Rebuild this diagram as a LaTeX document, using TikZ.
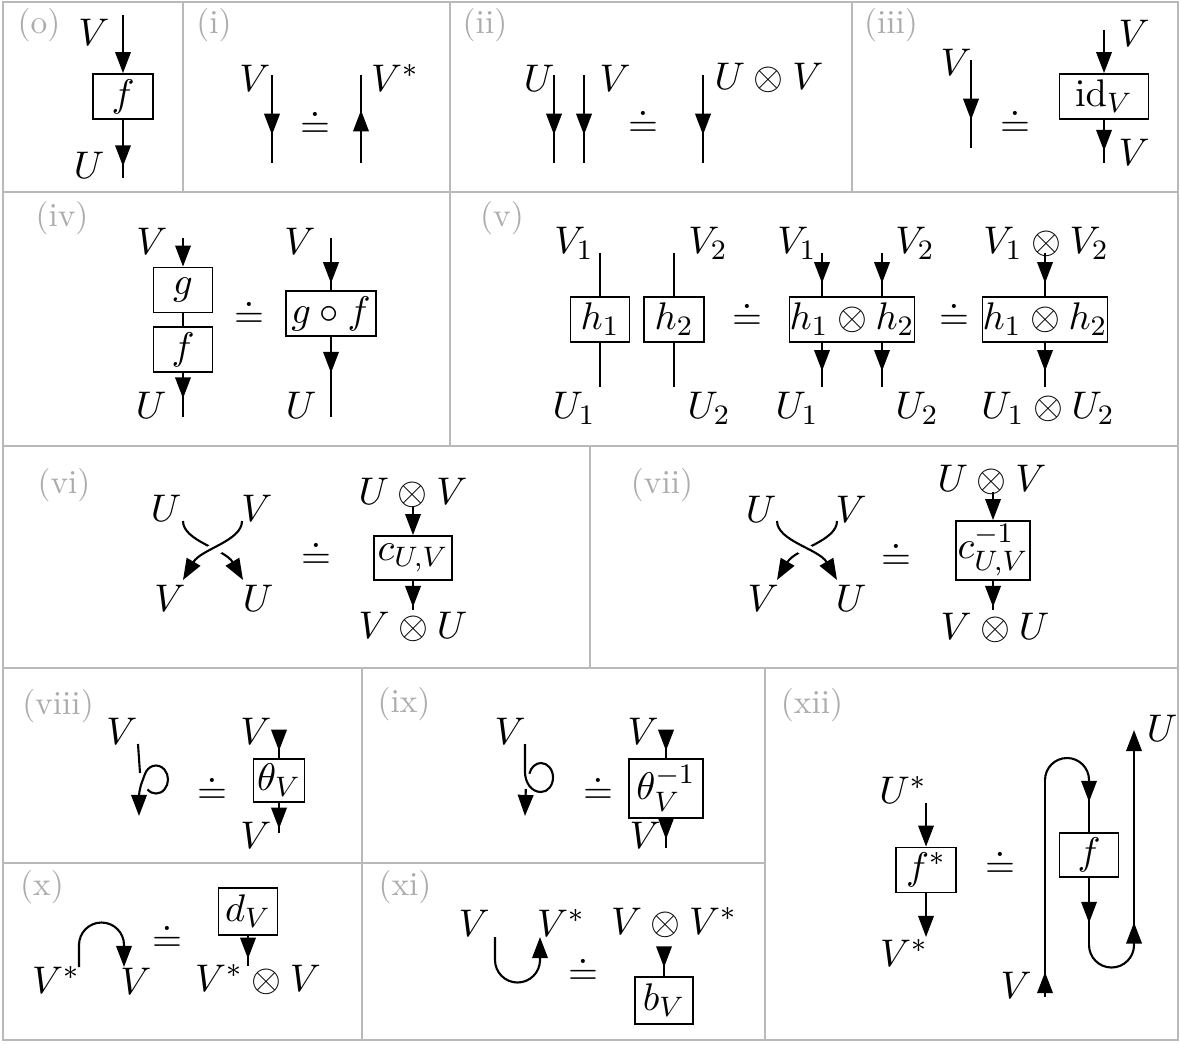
\documentclass[tikz,border=0pt,11pt]{standalone}
\usepackage{amsmath,amssymb}
\usepackage{tikz}
\usetikzlibrary{arrows.meta,decorations.markings}
\definecolor{rulegray}{RGB}{185,185,185}
\definecolor{taggray}{RGB}{172,172,172}

\begin{document}
\begin{tikzpicture}[x=0.01cm,y=0.01cm,
    every node/.style={inner sep=1pt},
    ktip/.tip={Triangle[length=6pt,width=4.4pt]},
    strand/.style={line width=0.6pt},
    tobox/.style={strand,-ktip},
    midtip/.style={strand,postaction={decorate},
      decoration={markings,mark=at position #1 with {\arrow{ktip}}}},
    overpass/.style={preaction={draw,white,line width=3.6pt,arrows=-}},
    mapbox/.style={draw,line width=0.5pt,inner sep=1pt,minimum width=0.6cm,minimum height=0.45cm},
    tag/.style={text=taggray,font=\fontsize{9.5}{11}\selectfont},
    cell/.style={draw=rulegray,line width=0.7pt}]
  \useasboundingbox (0,0) rectangle (1180,-1043);
  % table rules
  \draw[cell] (3,-2) rectangle (1178,-1040);
  \draw[cell] (3,-192) -- (1178,-192);
  \draw[cell] (3,-446) -- (1178,-446);
  \draw[cell] (3,-668) -- (1178,-668);
  \draw[cell] (3,-863) -- (765,-863);
  \draw[cell] (183,-2) -- (183,-192);
  \draw[cell] (450,-2) -- (450,-446);
  \draw[cell] (852,-2) -- (852,-192);
  \draw[cell] (590,-446) -- (590,-668);
  \draw[cell] (362,-668) -- (362,-1040);
  \draw[cell] (765,-668) -- (765,-1040);

  % (o)
  \node[mapbox] (o-f) at (123,-96.5) {$f$};
  \coordinate (o-in) at (123,-15);
  \coordinate (o-out) at (123,-178);
  \draw[tobox] (o-in) -- (o-f);
  \draw[midtip=0.8] (o-f) -- (o-out);

  % (i)
  \coordinate (i-a) at (272,-75);
  \coordinate (i-b) at (272,-163);
  \coordinate (i-c) at (361,-163);
  \coordinate (i-d) at (361,-75);
  \draw[midtip=0.68] (i-a) -- (i-b);
  \draw[midtip=0.6] (i-c) -- (i-d);

  % (ii)
  \coordinate (ii-a) at (554,-75);
  \coordinate (ii-b) at (554,-163);
  \coordinate (ii-c) at (584,-75);
  \coordinate (ii-d) at (584,-163);
  \coordinate (ii-e) at (703,-75);
  \coordinate (ii-f) at (703,-163);
  \draw[midtip=0.68] (ii-a) -- (ii-b);
  \draw[midtip=0.68] (ii-c) -- (ii-d);
  \draw[midtip=0.68] (ii-e) -- (ii-f);

  % (iii)
  \coordinate (iii-a) at (971,-60);
  \coordinate (iii-b) at (971,-148);
  \draw[midtip=0.68] (iii-a) -- (iii-b);
  \node[mapbox,minimum width=0.89cm] (iii-id) at (1104,-96.5) {$\mathrm{id}_V$};
  \coordinate (iii-in) at (1104,-30);
  \coordinate (iii-out) at (1104,-163);
  \draw[tobox] (iii-in) -- (iii-id);
  \draw[midtip=0.72] (iii-id) -- (iii-out);

  % (iv)
  \node[mapbox,minimum width=0.59cm] (iv-g) at (183,-290) {$g$};
  \node[mapbox,minimum width=0.59cm] (iv-f) at (183,-349.5) {$f$};
  \coordinate (iv-a) at (183,-238);
  \coordinate (iv-b) at (183,-417);
  \draw[tobox] (iv-a) -- (iv-g);
  \draw[strand] (iv-g) -- (iv-f);
  \draw[midtip=0.58] (iv-f) -- (iv-b);
  \node[mapbox,minimum width=0.9cm] (iv-gf) at (331,-313.5) {$g\circ f$};
  \coordinate (iv-c) at (331,-238);
  \coordinate (iv-d) at (331,-417);
  \draw[midtip=0.87] (iv-c) -- (iv-gf);
  \draw[midtip=0.45] (iv-gf) -- (iv-d);

  % (v)
  \node[mapbox,minimum width=0.59cm] (vA) at (600,-319.5) {$h_1$};
  \node[mapbox,minimum width=0.6cm] (vB) at (674,-319.5) {$h_2$};
  \coordinate (vA-a) at (600,-253);
  \coordinate (vA-b) at (600,-387);
  \coordinate (vB-a) at (674,-253);
  \coordinate (vB-b) at (674,-387);
  \draw[strand] (vA-a) -- (vA);
  \draw[strand] (vA) -- (vA-b);
  \draw[strand] (vB-a) -- (vB);
  \draw[strand] (vB) -- (vB-b);
  \node[mapbox,minimum width=1.19cm,inner sep=0pt] (vC) at (852,-319.5) {$h_1\otimes h_2$};
  \coordinate (vC-a) at (822,-253);
  \coordinate (vC-b) at (882,-253);
  \coordinate (vC-c) at (822,-387);
  \coordinate (vC-d) at (882,-387);
  \draw[midtip=0.7] (vC-a) -- (vC-a |- vC.north);
  \draw[midtip=0.7] (vC-b) -- (vC-b |- vC.north);
  \draw[midtip=0.64] (vC-c |- vC.south) -- (vC-c);
  \draw[midtip=0.64] (vC-d |- vC.south) -- (vC-d);
  \node[mapbox,minimum width=1.19cm,inner sep=0pt] (vD) at (1045,-319.5) {$h_1\otimes h_2$};
  \coordinate (vD-a) at (1045,-253);
  \coordinate (vD-b) at (1045,-387);
  \draw[midtip=0.7] (vD-a) -- (vD);
  \draw[midtip=0.64] (vD) -- (vD-b);

  % (vi)
  \coordinate (vi-Ua) at (183,-521);
  \coordinate (vi-Va) at (242,-521);
  \coordinate (vi-Vb) at (183,-580);
  \coordinate (vi-Ub) at (243,-580);
  \draw[strand,-ktip] (vi-Ua) .. controls +(0,-20) and +(-18,31) .. (vi-Ub);
  \draw[strand,overpass,-ktip] (vi-Va) .. controls +(0,-20) and +(18,31) .. (vi-Vb);
  \node[mapbox,minimum width=0.75cm,minimum height=0.44cm] (vi-c) at (413,-558) {$c_{U,V}$};
  \coordinate (vi-in) at (413,-507);
  \coordinate (vi-out) at (413,-610);
  \draw[tobox] (vi-in) -- (vi-c);
  \draw[midtip=0.9] (vi-c) -- (vi-out);

  % (vii)
  \coordinate (vii-Ua) at (777,-521);
  \coordinate (vii-Va) at (837,-521);
  \coordinate (vii-Vb) at (777,-580);
  \coordinate (vii-Ub) at (837,-580);
  \draw[strand,-ktip] (vii-Va) .. controls +(0,-20) and +(18,31) .. (vii-Vb);
  \draw[strand,overpass,-ktip] (vii-Ua) .. controls +(0,-20) and +(-18,31) .. (vii-Ub);
  \node[mapbox,minimum width=0.74cm,minimum height=0.59cm,inner sep=0.5pt] (vii-c) at (993,-550.5) {$c^{-1}_{U,V}$};
  \coordinate (vii-in) at (993,-492);
  \coordinate (vii-out) at (993,-610);
  \draw[tobox] (vii-in) -- (vii-c);
  \draw[midtip=0.9] (vii-c) -- (vii-out);

  % (viii)
  \coordinate (viii-a) at (138,-744);
  \coordinate (viii-b) at (140,-773);
  \coordinate (viii-c) at (147.5,-789.4);
  \coordinate (viii-d) at (139,-798);
  \coordinate (viii-e) at (139,-816);
  \draw[strand] (viii-a) -- (viii-b);
  \draw[strand,-ktip] (viii-c) arc[start angle=225,end angle=520,x radius=12,y radius=14]
    to[out=250,in=90] (viii-d) -- (viii-e);
  \node[mapbox,minimum width=0.45cm,minimum height=0.43cm] (viii-t) at (279,-780.5) {$\theta_V$};
  \coordinate (viii-in) at (279,-730);
  \coordinate (viii-out) at (279,-833);
  \draw[midtip=0.74] (viii-in) -- (viii-t);
  \draw[midtip=0.86] (viii-t) -- (viii-out);

  % (ix)
  \coordinate (ix-a) at (525,-744);
  \coordinate (ix-b) at (525,-772);
  \coordinate (ix-c) at (541,-792);
  \coordinate (ix-d) at (525.8,-789);
  \coordinate (ix-e) at (525,-816);
  \draw[strand] (ix-a) -- (ix-b) to[out=-90,in=180] (ix-c)
    arc[start angle=270,end angle=525,x radius=12,y radius=14.5];
  \draw[strand,-ktip] (ix-d) -- (ix-e);
  \node[mapbox,minimum width=0.74cm,minimum height=0.59cm,inner sep=0.5pt] (ix-t) at (666,-788.5) {$\theta_V^{-1}$};
  \coordinate (ix-in) at (666,-730);
  \coordinate (ix-out) at (666,-848);
  \draw[midtip=0.74] (ix-in) -- (ix-t);
  \draw[midtip=0.7] (ix-t) -- (ix-out);

  % (x)
  \coordinate (x-a) at (79,-967);
  \coordinate (x-b) at (124,-967);
  \draw[strand,-ktip] (x-a) -- ++(0,22) arc[start angle=180,end angle=0,radius=22.5] -- (x-b);
  \node[mapbox,minimum width=0.59cm,minimum height=0.47cm] (x-d) at (248,-911.5) {$d_V$};
  \coordinate (x-out) at (248,-966);
  \draw[midtip=0.76] (x-d) -- (x-out);

  % (xi)
  \coordinate (xi-a) at (495,-937);
  \coordinate (xi-b) at (540,-937);
  \draw[strand,-ktip] (xi-a) -- ++(0,-23) arc[start angle=180,end angle=360,radius=22.5] -- (xi-b);
  \node[mapbox,minimum width=0.58cm,minimum height=0.47cm] (xi-bv) at (664,-1000.5) {$b_V$};
  \coordinate (xi-in) at (664,-947);
  \draw[midtip=0.7] (xi-in) -- (xi-bv);

  % (xii)
  \node[mapbox] (xii-fs) at (926,-870) {$f^*$};
  \coordinate (xii-in) at (926,-803);
  \coordinate (xii-out) at (926,-937);
  \draw[tobox] (xii-in) -- (xii-fs);
  \draw[tobox] (xii-fs) -- (xii-out);
  \node[mapbox,minimum width=0.59cm,minimum height=0.44cm] (xii-f) at (1089,-855) {$f$};
  \coordinate (xii-V0) at (1045,-997);
  \coordinate (xii-a) at (1045,-780);
  \coordinate (xii-c) at (1089,-945);
  \coordinate (xii-e) at (1134,-730);
  \draw[midtip=0.115] (xii-V0) -- (xii-a);
  \draw[strand] (xii-a) arc[start angle=180,end angle=0,radius=22] coordinate (xii-b);
  \draw[midtip=0.42] (xii-b) -- (xii-f);
  \draw[midtip=0.67] (xii-f) -- (xii-c);
  \draw[strand] (xii-c) arc[start angle=180,end angle=360,radius=22.5] coordinate (xii-d);
  \draw[midtip=0.105,-ktip] (xii-d) -- (xii-e);

  % tags
  \node[tag] (t0) at (39,-25) {(o)};
  \node[tag] (t1) at (214,-25) {(i)};
  \node[tag] (t2) at (485,-25) {(ii)};
  \node[tag] (t3) at (891,-25) {(iii)};
  \node[tag] (t4) at (62,-218) {(iv)};
  \node[tag] (t5) at (502,-218) {(v)};
  \node[tag] (t6) at (64,-485) {(vi)};
  \node[tag] (t7) at (662,-485) {(vii)};
  \node[tag] (t8) at (58,-706) {(viii)};
  \node[tag] (t9) at (404,-704) {(ix)};
  \node[tag] (t10) at (42,-887) {(x)};
  \node[tag] (t11) at (405,-887) {(xi)};
  \node[tag] (t12) at (812,-705) {(xii)};

  % labels
  \node (o-V) at (94,-32) {$V$};
  \node (o-U) at (89,-165) {$U$};
  \node (i-V) at (255,-78) {$V$};
  \node (i-Vs) at (395,-78) {$V^*$};
  \node (i-eq) at (315,-123) {$\doteq$};
  \node (ii-U) at (539,-78) {$U$};
  \node (ii-V) at (615,-78) {$V$};
  \node (ii-UV) at (769,-78) {$U\otimes V$};
  \node (ii-eq) at (643,-122) {$\doteq$};
  \node (iii-V) at (956,-62) {$V$};
  \node (iii-eq) at (1015,-122) {$\doteq$};
  \node (iii-Vt) at (1134,-33) {$V$};
  \node (iii-Vb) at (1134,-152) {$V$};
  \node (iv-V1) at (152,-241) {$V$};
  \node (iv-U1) at (151,-405) {$U$};
  \node (iv-eq) at (249,-313) {$\doteq$};
  \node (iv-V2) at (300,-241) {$V$};
  \node (iv-U2) at (301,-405) {$U$};
  \node (vA-V) at (574,-243) {$V_1$};
  \node (vB-V) at (708,-243) {$V_2$};
  \node (vC-V1) at (797,-243) {$V_1$};
  \node (vC-V2) at (915,-243) {$V_2$};
  \node (vD-V) at (1046,-243) {$V_1\otimes V_2$};
  \node (vA-U) at (574,-408) {$U_1$};
  \node (vB-U) at (709,-408) {$U_2$};
  \node (vC-U1) at (797,-408) {$U_1$};
  \node (vC-U2) at (917,-408) {$U_2$};
  \node (vD-U) at (1048,-408) {$U_1\otimes U_2$};
  \node (v-eq1) at (747,-315) {$\doteq$};
  \node (v-eq2) at (954,-315) {$\doteq$};
  \node (vi-U1) at (166,-508) {$U$};
  \node (vi-V1) at (257,-508) {$V$};
  \node (vi-V2) at (170,-598) {$V$};
  \node (vi-U2) at (258,-598) {$U$};
  \node (vi-eq) at (316,-554) {$\doteq$};
  \node (vi-UV) at (413,-493) {$U\otimes V$};
  \node (vi-VU) at (413,-627) {$V\otimes U$};
  \node (vii-U1) at (761,-509) {$U$};
  \node (vii-V1) at (851,-509) {$V$};
  \node (vii-V2) at (763,-598) {$V$};
  \node (vii-U2) at (851,-598) {$U$};
  \node (vii-eq) at (896,-555) {$\doteq$};
  \node (vii-UV) at (992,-480) {$U\otimes V$};
  \node (vii-VU) at (995,-628) {$V\otimes U$};
  \node (viii-V) at (122,-731) {$V$};
  \node (viii-eq) at (212,-789) {$\doteq$};
  \node (viii-Vt) at (256,-731) {$V$};
  \node (viii-Vb) at (256,-835) {$V$};
  \node (ix-V) at (510,-731) {$V$};
  \node (ix-eq) at (598,-789) {$\doteq$};
  \node (ix-Vt) at (643,-731) {$V$};
  \node (ix-Vb) at (645,-835) {$V$};
  \node (x-Vs) at (56,-980) {$V^*$};
  \node (x-V) at (136,-981) {$V$};
  \node (x-eq) at (167,-937) {$\doteq$};
  \node (x-VV) at (258,-980) {$V^*\otimes V$};
  \node (xi-V) at (474,-923) {$V$};
  \node (xi-Vs) at (561,-923) {$V^*$};
  \node (xi-eq) at (583,-970) {$\doteq$};
  \node (xi-VV) at (674,-923) {$V\otimes V^*$};
  \node (xii-Us) at (903,-790) {$U^*$};
  \node (xii-Vs) at (904,-953) {$V^*$};
  \node (xii-eq) at (1000,-863) {$\doteq$};
  \node (xii-U) at (1162,-728) {$U$};
  \node (xii-V) at (1016,-985) {$V$};
\end{tikzpicture}
\end{document}
